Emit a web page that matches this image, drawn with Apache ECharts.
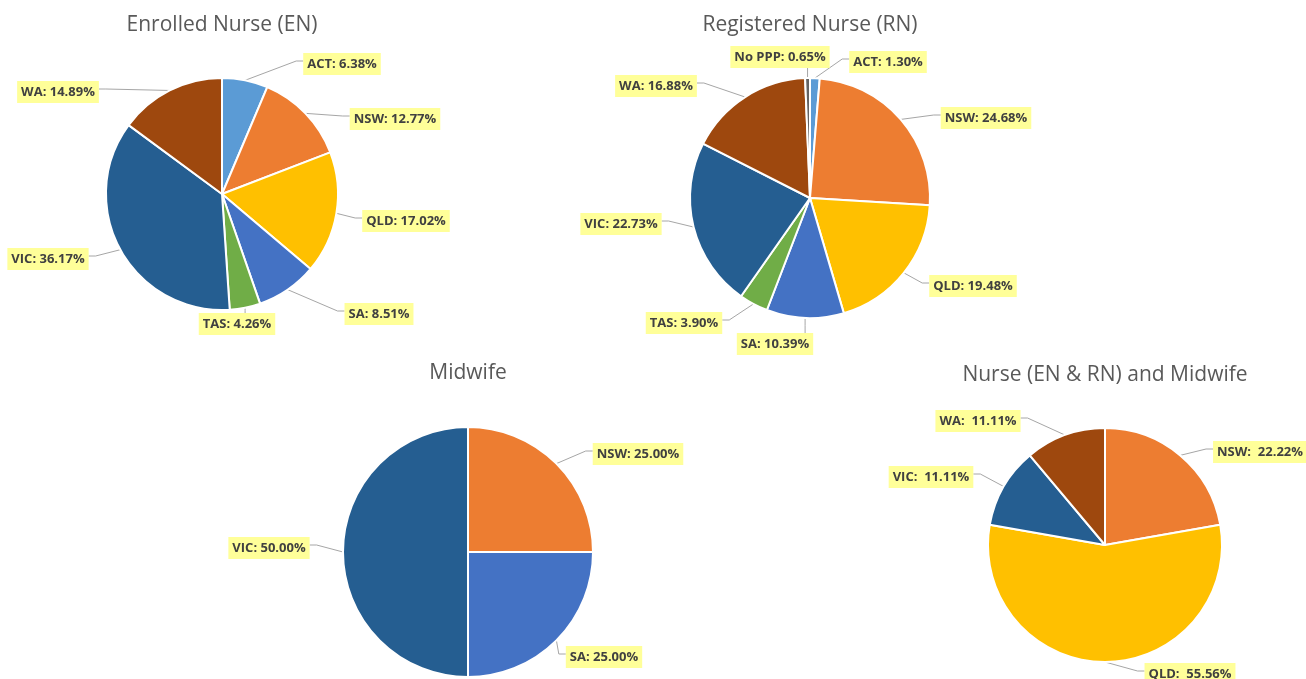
<!DOCTYPE html>
<html><head><meta charset="utf-8">
<script src="https://cdn.jsdelivr.net/npm/echarts@6/dist/echarts.min.js"></script>
<style>html,body{margin:0;padding:0;background:#fff}#c{width:1306px;height:679px}</style>
</head><body><div id="c"></div>
<script>
// ---- data ----
const titles = ['Enrolled Nurse (EN)', 'Registered Nurse (RN)', 'Midwife', 'Nurse (EN & RN) and Midwife'];
const enStates = ['ACT', 'NSW', 'QLD', 'SA', 'TAS', 'VIC', 'WA'];
const enValues = [6.38, 12.77, 17.02, 8.51, 4.26, 36.17, 14.89];
const rnStates = ['ACT', 'NSW', 'QLD', 'SA', 'TAS', 'VIC', 'WA', 'No PPP'];
const rnValues = [1.30, 24.68, 19.48, 10.39, 3.90, 22.73, 16.88, 0.65];
const mwStates = ['NSW', 'SA', 'VIC'];
const mwValues = [25.00, 25.00, 50.00];
const allStates = ['NSW', 'QLD', 'VIC', 'WA'];
const allValues = [22.22, 55.56, 11.11, 11.11];

// ---- styles / layout ----
const stateColors = {
  'ACT': '#5B9BD5', 'NSW': '#ED7D31', 'QLD': '#FFC000', 'SA': '#4472C4',
  'TAS': '#70AD47', 'VIC': '#255E91', 'WA': '#9E480E', 'No PPP': '#636363'
};
const pies = [
  { names: enStates, values: enValues, sep: ': ', center: [222, 194], r: 116, titleTop: 11,
    labelOffsets: [[120, -130], [173, -75], [184, 27], [157, 120], [15, 130], [-174, 65], [-164, -102]] },
  { names: rnStates, values: rnValues, sep: ': ', center: [810, 198], r: 120, titleTop: 11,
    labelOffsets: [[78, -136], [176, -80], [163, 88], [-35, 146], [-126, 125], [-189, 26], [-154, -112], [-30, -141]] },
  { names: mwStates, values: mwValues, sep: ': ', center: [468, 552], r: 125, titleTop: 359,
    labelOffsets: [[170, -98], [136, 105], [-199, -4]] },
  { names: allStates, values: allValues, sep: ':  ', center: [1105, 545], r: 117, titleTop: 361,
    labelOffsets: [[155, -93], [85, 129], [-174, -68], [-127, -124]] }
];

function makeLabelLayout(p) {
  const total = p.values.reduce((a, b) => a + b, 0);
  return function (params) {
    const i = params.dataIndex;
    let cum = 0;
    for (let j = 0; j < i; j++) cum += p.values[j];
    const mid = (cum + p.values[i] / 2) / total * Math.PI * 2;
    const cx = p.center[0], cy = p.center[1];
    const ax = cx + p.r * Math.sin(mid), ay = cy - p.r * Math.cos(mid);
    const w = params.labelRect.width, h = params.labelRect.height;
    const lx = cx + p.labelOffsets[i][0], ly = cy + p.labelOffsets[i][1];
    const left = lx - w / 2, right = lx + w / 2, top = ly - h / 2, bottom = ly + h / 2;
    let pts;
    if (left > ax) pts = [[ax, ay], [left - 7, ly - 3], [left, ly - 3]];
    else if (right < ax) pts = [[ax, ay], [right + 7, ly - 3], [right, ly - 3]];
    else if (top > ay) pts = [[ax, ay], [ax, (ay + top) / 2], [ax, top]];
    else pts = [[ax, ay], [ax, (ay + bottom) / 2], [ax, bottom]];
    return { x: lx, y: ly, align: 'center', verticalAlign: 'middle', labelLinePoints: pts };
  };
}

const chart = echarts.init(document.getElementById('c'), null, { renderer: 'canvas' });
const option = {
  backgroundColor: '#ffffff',
  animation: false,
  title: pies.map((p, k) => ({
    text: titles[k],
    left: p.center[0], top: p.titleTop, textAlign: 'center', padding: 0,
    textStyle: { fontFamily: 'Open Sans', fontSize: 21, fontWeight: 'normal', color: '#595959', lineHeight: 28 }
  })),
  series: pies.map(p => ({
    type: 'pie',
    center: p.center,
    radius: p.r,
    startAngle: 90,
    clockwise: true,
    avoidLabelOverlap: false,
    silent: true,
    data: p.names.map((n, i) => ({ name: n, value: p.values[i], itemStyle: { color: stateColors[n] } })),
    itemStyle: { borderColor: '#ffffff', borderWidth: 2 },
    label: {
      show: true, position: 'outside',
      formatter: (prm) => prm.name + p.sep + prm.value.toFixed(2) + '%',
      fontFamily: 'Open Sans', fontSize: 13, fontWeight: 'bold', color: '#404040',
      backgroundColor: '#FFFF99', padding: [5, 4, 4, 4]
    },
    labelLine: { show: true, lineStyle: { color: '#A6A6A6', width: 1 } },
    labelLayout: makeLabelLayout(p)
  }))
};
chart.setOption(option);
</script>
</body></html>
